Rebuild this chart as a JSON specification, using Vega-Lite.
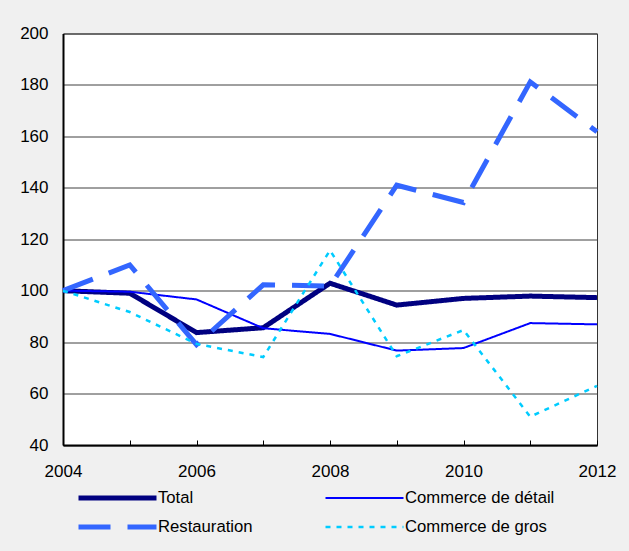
{
  "$schema": "https://vega.github.io/schema/vega-lite/v6.json",
  "width": 534,
  "height": 411.5,
  "autosize": {"type": "none"},
  "padding": {"left": 63, "top": 33.5, "right": 32, "bottom": 106},
  "background": "#f0f0f0",
  "config": {
    "font": "Liberation Sans",
    "view": {"fill": "white", "stroke": "#333333", "strokeWidth": 1}
  },
  "data": {
    "values": [
      {"year": 2004, "series": "Total", "value": 100},
      {"year": 2005, "series": "Total", "value": 99},
      {"year": 2006, "series": "Total", "value": 83.7},
      {"year": 2007, "series": "Total", "value": 85.6},
      {"year": 2008, "series": "Total", "value": 102.9},
      {"year": 2009, "series": "Total", "value": 94.4},
      {"year": 2010, "series": "Total", "value": 97},
      {"year": 2011, "series": "Total", "value": 97.9},
      {"year": 2012, "series": "Total", "value": 97.3},
      {"year": 2004, "series": "Commerce de détail", "value": 100},
      {"year": 2005, "series": "Commerce de détail", "value": 99.6},
      {"year": 2006, "series": "Commerce de détail", "value": 96.6},
      {"year": 2007, "series": "Commerce de détail", "value": 85.4},
      {"year": 2008, "series": "Commerce de détail", "value": 83.2},
      {"year": 2009, "series": "Commerce de détail", "value": 76.7},
      {"year": 2010, "series": "Commerce de détail", "value": 77.7},
      {"year": 2011, "series": "Commerce de détail", "value": 87.4},
      {"year": 2012, "series": "Commerce de détail", "value": 86.9},
      {"year": 2004, "series": "Restauration", "value": 100},
      {"year": 2005, "series": "Restauration", "value": 110},
      {"year": 2006, "series": "Restauration", "value": 79},
      {"year": 2007, "series": "Restauration", "value": 102.3},
      {"year": 2008, "series": "Restauration", "value": 101.8},
      {"year": 2009, "series": "Restauration", "value": 141},
      {"year": 2010, "series": "Restauration", "value": 134.3},
      {"year": 2011, "series": "Restauration", "value": 181.2},
      {"year": 2012, "series": "Restauration", "value": 161.8},
      {"year": 2004, "series": "Commerce de gros", "value": 100},
      {"year": 2005, "series": "Commerce de gros", "value": 91.7},
      {"year": 2006, "series": "Commerce de gros", "value": 79.3},
      {"year": 2007, "series": "Commerce de gros", "value": 74.2},
      {"year": 2008, "series": "Commerce de gros", "value": 115.7},
      {"year": 2009, "series": "Commerce de gros", "value": 74.5},
      {"year": 2010, "series": "Commerce de gros", "value": 84.7},
      {"year": 2011, "series": "Commerce de gros", "value": 51},
      {"year": 2012, "series": "Commerce de gros", "value": 63}
    ]
  },
  "mark": {"type": "line", "strokeCap": "butt", "strokeJoin": "miter"},
  "encoding": {
    "x": {
      "field": "year",
      "type": "quantitative",
      "scale": {"domain": [2004, 2012], "nice": false, "zero": false},
      "axis": {
        "title": null,
        "values": [2004, 2005, 2006, 2007, 2008, 2009, 2010, 2011, 2012],
        "labelExpr": "datum.value % 2 == 0 ? datum.label : ''",
        "format": "d",
        "grid": false,
        "domainColor": "black",
        "domainWidth": 2,
        "tickColor": "black",
        "tickWidth": 1,
        "tickSize": -5,
        "labelPadding": 23,
        "labelFontSize": 17,
        "labelColor": "black",
        "labelFlush": false,
        "labelOverlap": false
      }
    },
    "y": {
      "field": "value",
      "type": "quantitative",
      "scale": {"domain": [40, 200], "nice": false, "zero": false},
      "axis": {
        "title": null,
        "values": [40, 60, 80, 100, 120, 140, 160, 180, 200],
        "grid": true,
        "gridColor": "#404040",
        "gridWidth": 1,
        "ticks": false,
        "domainColor": "black",
        "domainWidth": 2,
        "labelPadding": 15,
        "labelFontSize": 17,
        "labelColor": "black",
        "labelFlush": false,
        "labelOverlap": false
      }
    },
    "color": {
      "field": "series",
      "type": "nominal",
      "scale": {
        "domain": ["Total", "Restauration", "Commerce de détail", "Commerce de gros"],
        "range": ["#000080", "#3366ff", "#0000ff", "#00ccff"]
      },
      "legend": {
        "title": null,
        "orient": "none",
        "legendX": 13,
        "legendY": 454.5,
        "columns": 2,
        "columnPadding": 70,
        "rowPadding": 9,
        "padding": 0,
        "clipHeight": 20,
        "symbolType": "stroke",
        "symbolSize": 6084,
        "symbolOffset": 0,
        "labelOffset": -1,
        "labelFontSize": 16.7,
        "labelColor": "black",
        "labelLimit": 300
      }
    },
    "strokeDash": {
      "field": "series",
      "type": "nominal",
      "scale": {
        "domain": ["Total", "Restauration", "Commerce de détail", "Commerce de gros"],
        "range": [[1, 0], [32, 17], [1, 0], [5, 6]]
      },
      "legend": null
    },
    "strokeWidth": {
      "field": "series",
      "type": "nominal",
      "scale": {
        "type": "ordinal",
        "domain": ["Total", "Restauration", "Commerce de détail", "Commerce de gros"],
        "range": [5, 5, 2, 2.5]
      },
      "legend": null
    }
  }
}
